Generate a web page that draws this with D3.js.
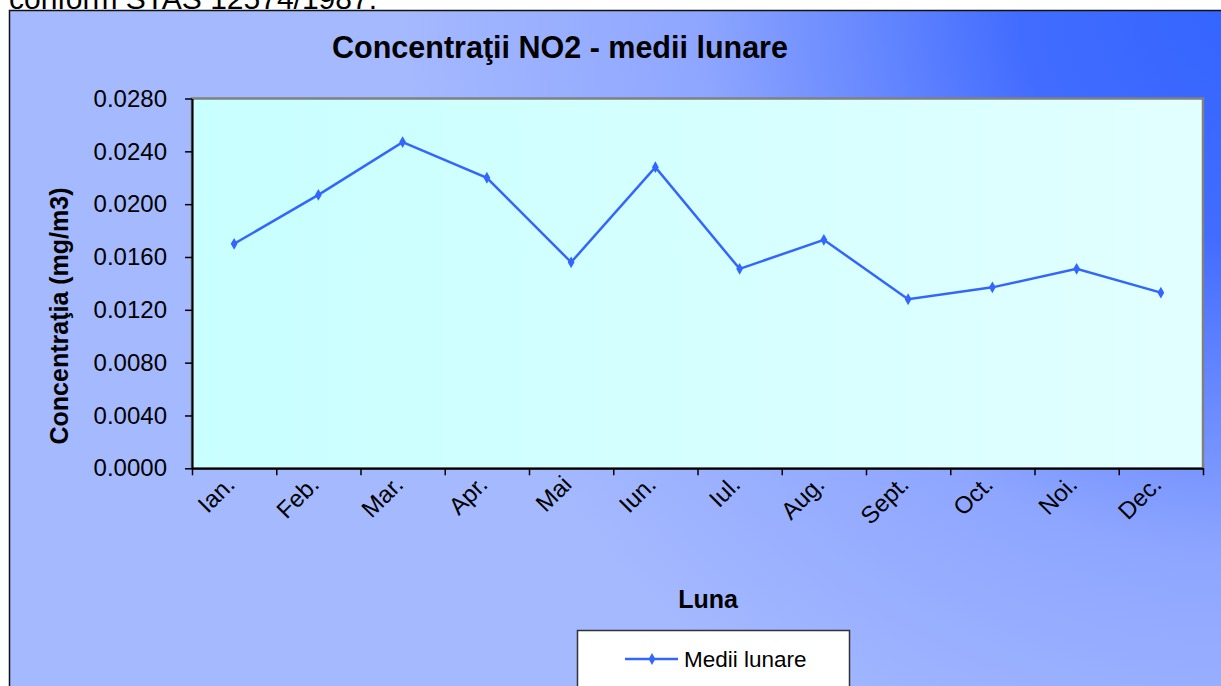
<!DOCTYPE html>
<html><head><meta charset="utf-8">
<script src="https://cdn.jsdelivr.net/npm/d3@7"></script>
<style>html,body{margin:0;padding:0;background:#fff;overflow:hidden}svg{display:block}</style>
</head><body>
<svg id="c" width="1221" height="686"></svg>
<script>
const months = ["Ian.","Feb.","Mar.","Apr.","Mai","Iun.","Iul.","Aug.","Sept.","Oct.","Noi.","Dec."];
const values = [0.0170,0.0207,0.0247,0.0220,0.0156,0.0228,0.0151,0.0173,0.0128,0.0137,0.0151,0.0133];
const yTicks = [0,0.004,0.008,0.012,0.016,0.020,0.024,0.028];
const seriesName = "Medii lunare";
const titleText = "Concentraţii NO2 - medii lunare";
const yLabel = "Concentraţia (mg/m3)";
const xLabel = "Luna";
const topText = "conform STAS 12574/1987.";

const svg = d3.select("#c");
const font = "Arial, 'Liberation Sans', sans-serif";
const defs = svg.append("defs");
const bg = defs.append("radialGradient").attr("id","bg").attr("gradientUnits","userSpaceOnUse")
  .attr("cx",1260).attr("cy",0).attr("r",860);
bg.append("stop").attr("offset","0").attr("stop-color","#3264ff");
bg.append("stop").attr("offset","0.28").attr("stop-color","#426cff");
bg.append("stop").attr("offset","0.65").attr("stop-color","#8ea6ff");
bg.append("stop").attr("offset","1").attr("stop-color","#a5b9ff");
const pg = defs.append("linearGradient").attr("id","pg").attr("x1","0").attr("x2","1").attr("y1","0").attr("y2","0");
pg.append("stop").attr("offset","0").attr("stop-color","#c8ffff");
pg.append("stop").attr("offset","1").attr("stop-color","#e2ffff");

svg.append("text").attr("x",9).attr("y",8.5).attr("font-family",font).attr("font-size",30).attr("fill","#000").text(topText);

// chart frame
svg.append("rect").attr("x",9.5).attr("y",10.5).attr("width",1240).attr("height",700)
  .attr("fill","url(#bg)").attr("stroke","#111").attr("stroke-width",1.5);

const L = 192, R = 1203, T = 98.5, B = 468.3;
const x = d3.scaleBand().domain(months).range([L,R]);
const y = d3.scaleLinear().domain([0,0.028]).range([B,T]);

// plot area
svg.append("rect").attr("x",L).attr("y",T).attr("width",R-L).attr("height",B-T)
  .attr("fill","url(#pg)").attr("stroke","#808080").attr("stroke-width",2.5);

// axes
const yAxis = d3.axisLeft(y).tickValues(yTicks).tickFormat(d3.format(".4f")).tickSize(7).tickSizeOuter(0);
const gy = svg.append("g").attr("transform",`translate(${L},0)`).call(yAxis);
gy.select(".domain").attr("stroke","#000").attr("stroke-width",2);
gy.selectAll(".tick line").attr("stroke","#000").attr("stroke-width",1.5);
gy.selectAll(".tick text").attr("font-family",font).attr("font-size",24).attr("fill","#000").attr("x",-25);

const xb = d3.scaleLinear().domain([0,12]).range([L,R]);
const xAxis = d3.axisBottom(xb).tickValues(d3.range(0,13)).tickFormat("").tickSize(7).tickSizeOuter(0);
const gx = svg.append("g").attr("transform",`translate(0,${B})`).call(xAxis);
gx.select(".domain").attr("stroke","#000").attr("stroke-width",2);
gx.selectAll(".tick line").attr("stroke","#000").attr("stroke-width",1.5);

svg.append("g").selectAll("text").data(months).join("text")
  .attr("transform",d=>`translate(${x(d)+x.bandwidth()/2+2},${486}) rotate(-45)`)
  .attr("text-anchor","end")
  .attr("font-family",font).attr("font-size",24).attr("fill","#000").text(d=>d);

// line
const line = d3.line().x((d,i)=>x(months[i])+x.bandwidth()/2).y(d=>y(d));
svg.append("path").datum(values).attr("d",line).attr("fill","none").attr("stroke","#3366ff").attr("stroke-width",2.5);
svg.append("g").selectAll("path").data(values).join("path")
  .attr("transform",(d,i)=>`translate(${x(months[i])+x.bandwidth()/2},${y(d)})`)
  .attr("d",d3.symbol(d3.symbolDiamond,40)).attr("fill","#3366ff");

// titles
svg.append("text").attr("x",560).attr("y",58).attr("text-anchor","middle").attr("font-family",font)
  .attr("font-weight","bold").attr("font-size",30.5).attr("fill","#000").text(titleText);
svg.append("text").attr("transform","translate(68,316) rotate(-90)").attr("text-anchor","middle")
  .attr("font-family",font).attr("font-weight","bold").attr("font-size",25).attr("fill","#000").text(yLabel);
svg.append("text").attr("x",708).attr("y",608).attr("text-anchor","middle").attr("font-family",font)
  .attr("font-weight","bold").attr("font-size",25).attr("fill","#000").text(xLabel);

// legend
const lg = svg.append("g");
lg.append("rect").attr("x",577.5).attr("y",630.5).attr("width",272).attr("height",80).attr("fill","#fff").attr("stroke","#333").attr("stroke-width",1.5);
lg.append("line").attr("x1",625).attr("x2",678).attr("y1",659).attr("y2",659).attr("stroke","#3366ff").attr("stroke-width",2.5);
lg.append("path").attr("transform","translate(652,659)").attr("d",d3.symbol(d3.symbolDiamond,40)).attr("fill","#3366ff");
lg.append("text").attr("x",684).attr("y",667).attr("font-family",font).attr("font-size",22.5).attr("fill","#000").text(seriesName);
</script>
</body></html>
